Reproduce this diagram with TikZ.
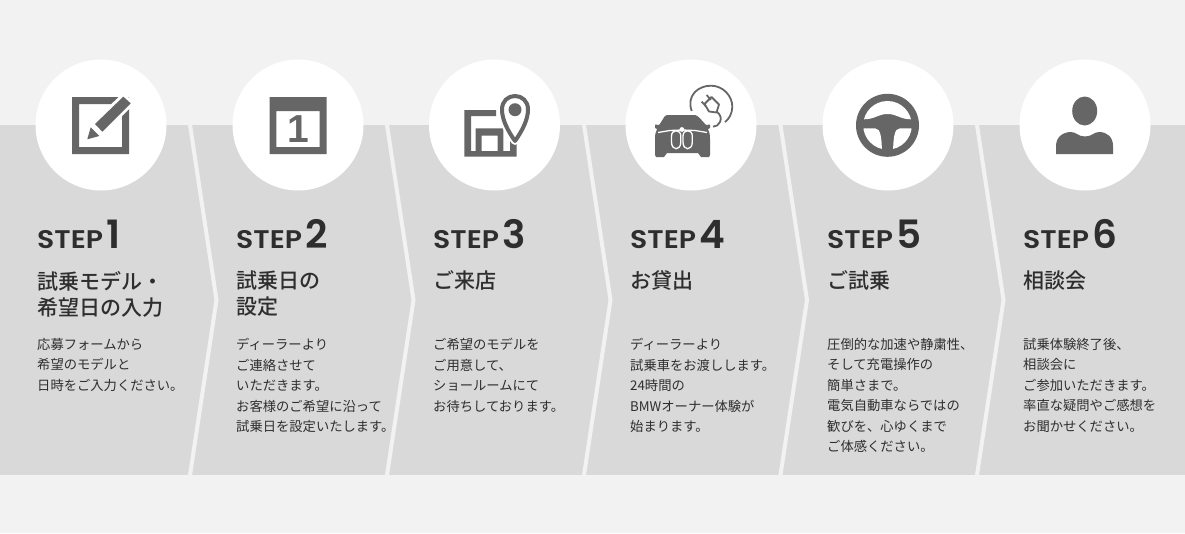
\documentclass[tikz,border=0pt]{standalone}
\usepackage{fontspec}
\setmainfont{Noto Sans CJK JP}
\newfontfamily\titlefont{Noto Sans CJK JP Medium}
\newfontfamily\stepfont[FakeStretch=1.11]{Poppins SemiBold}
\newfontfamily\stepnofont{Poppins SemiBold}
\newfontfamily\iconfont{Liberation Sans Bold}
\usepackage{tikz}
\usetikzlibrary{matrix}
\definecolor{pagegrey}{HTML}{F2F2F2}
\definecolor{bandgrey}{HTML}{D9D9D9}
\definecolor{icongrey}{HTML}{666666}
\definecolor{textgrey}{HTML}{2E2E2E}
\tikzset{
  roundel/.style={circle, fill=white, minimum size=131pt, inner sep=0pt},
  chevron/.style={draw=pagegrey, line width=4pt, miter limit=10},
  icon/.style={fill=icongrey, draw=none},
  halo/.style={draw=white, fill=white, line width=6pt, line join=round},
  cord/.style={draw=icongrey, line width=1.8pt, line join=round},
  kidney/.style={draw=white, fill=icongrey, line width=1.3pt},
  steplabel/.style={font=\stepfont\fontsize{25.5}{30}\selectfont, minimum height=40pt},
  steptitle/.style={font=\titlefont\fontsize{21}{26}\selectfont},
  stepbody/.style={font=\fontsize{13.3}{20.5}\selectfont}
}
\newcommand{\stepno}[1]{\kern3.5pt{\stepnofont\fontsize{39}{30}\selectfont #1}}
\begin{document}
\begin{tikzpicture}[x=1pt,y=-1pt]
 \useasboundingbox (0,0) rectangle (1185,533);
 \fill[pagegrey] (0,0) rectangle (1185,533);
 \fill[bandgrey] (0,125) rectangle (1185,475);
 \foreach \x in {190,387,584,780.5,977}
  \draw[chevron] (\x,125) -- (\x+26.5,300) -- (\x,475);
 \foreach \x [count=\i] in {101,298,494.5,691,888,1085}
  \node[roundel] (disc\i) at (\x,125) {};

 % step 1
 \fill[icon, even odd rule] (72,97) rectangle (129,154) (79,104) rectangle (122,147);
 \path[halo] (95,124) -- (123.3,96.7) -- (130.7,103.3) -- (102.3,131.7) -- cycle;
 \fill[icon] (95,124) -- (123.3,96.7) -- (130.7,103.3) -- (102.3,131.7) -- cycle;
 \fill[icon] (87.3,139.3) -- (90.7,127.3) -- (99.3,136) -- cycle;

 % step 2
 \fill[icon, even odd rule] (269.5,97) rectangle (326.5,154) (276.3,111) rectangle (319.7,147);
 \node[text=icongrey, font=\iconfont\fontsize{39}{39}\selectfont, inner sep=0pt] (daynum) at (298,129) {1};

 % step 3
 \fill[icon, even odd rule] (464.3,110) -- (496,110) -- (496,116) -- (471,116) -- (471,151)
  -- (475.7,151) -- (475.7,128.3) -- (503.3,128.3) -- (503.3,151) -- (510,151) -- (510,130)
  -- (516.7,130) -- (516.7,156.7) -- (464.3,156.7) -- cycle
  (481.7,135.7) rectangle (497.7,151);
 \draw[white, line width=8pt, fill=white, line join=round] (515,141) .. controls (508,131) and (502,120) .. (502,109.5)
  .. controls (502,101) and (508,96) .. (515,96) .. controls (522,96) and (528,101) .. (528,109.5)
  .. controls (528,120) and (522,131) .. (515,141) -- cycle;
 \draw[icongrey, line width=4pt, line join=round] (515,141) .. controls (508,131) and (502,120) .. (502,109.5)
  .. controls (502,101) and (508,96) .. (515,96) .. controls (522,96) and (528,101) .. (528,109.5)
  .. controls (528,120) and (522,131) .. (515,141) -- cycle;
 \fill[icon] (515,109.7) circle[radius=6.5pt];

 % step 4
 \fill[icon] (667,115) -- (695,115) .. controls (698,115) and (703,122) .. (706,125) -- (710,124.5) -- (710,128)
  -- (708,129) .. controls (709.5,132) and (710,135) .. (710,139) -- (710,155) -- (709,157) -- (701,157) -- (698,153)
  -- (667,153) -- (664,157) -- (656,157) -- (655,155) -- (655,139) .. controls (655,135) and (655.5,132) .. (657,129)
  -- (655,128) -- (655,124.5) -- (659,125) .. controls (662,122) and (664,115) .. (667,115) -- cycle;
 \draw[white, line width=1.3pt] (658,132.5) -- (670,130.5) -- (682,130) -- (695,130.5) -- (707,132.5);
 \draw[kidney] (671.5,136) .. controls (671.5,129) and (680.8,129) .. (680.8,136)
  -- (680.8,142) .. controls (680.8,151) and (671.5,151) .. (671.5,142) -- cycle;
 \draw[kidney] (683,136) .. controls (683,129) and (692.3,129) .. (692.3,136)
  -- (692.3,142) .. controls (692.3,151) and (683,151) .. (683,142) -- cycle;
 \fill[white] (681.9,129.5) circle[radius=2.4pt];
 \draw[cord] (691.7,111) .. controls (686,95) and (699,85.5) .. (711,85.7)
  .. controls (723,85.7) and (732.5,96) .. (732.3,107) .. controls (732,114) and (729,119) .. (725,122);
 \draw[cord] (704.5,104) -- (711.5,97) -- (719,104.5) -- (716.5,112.5) -- (709,111.5) -- cycle;
 \draw[cord] (701.7,101.7) -- (705.7,106) (706.7,95) -- (710.7,100);
 \draw[cord] (716.7,111.7) .. controls (720,114) and (722,118) .. (720,122) .. controls (719,125) and (716,126.5) .. (713,126.7);

 % step 5
 \fill[icon] (887.5,125.3) circle[radius=31.5pt];
 \begin{scope}
  \clip (887.5,125.3) circle[radius=24.3pt];
  \fill[white] (850,119.3) -- (864,119.3) .. controls (875,119.3) and (878,114) .. (887.5,114)
   .. controls (897,114) and (900,119.3) .. (911,119.3) -- (925,119.3) -- (925,90) -- (850,90) -- cycle;
  \fill[white] (850,128.3) -- (875,128.3) .. controls (881,128.3) and (882,138) .. (882,160) -- (850,160) -- cycle;
  \fill[white] (925,128.3) -- (900,128.3) .. controls (894,128.3) and (893,138) .. (893,160) -- (925,160) -- cycle;
 \end{scope}

 % step 6
 \fill[icon] (1084.7,111) ellipse[x radius=12.5pt, y radius=14.5pt];
 \fill[icon] (1056,154) -- (1056,146) .. controls (1056,137) and (1063,132) .. (1071,132) .. controls (1076,132) and (1078,136.5) .. (1085,136.5)
  .. controls (1092,136.5) and (1094,132) .. (1099,132) .. controls (1107,132) and (1113,137) .. (1113,146) -- (1113,154) -- cycle;

 \matrix (m) [matrix of nodes, anchor=north west, inner sep=0pt, column sep=37pt,
   nodes={anchor=north west, inner sep=0pt, text width=160pt, align=left, text=textgrey},
   row 1/.style={nodes={steplabel}}, row 2/.style={nodes={steptitle}}, row 3/.style={nodes={stepbody}}]
  at (37,214)
  {
    STEP\stepno{1} &[2pt] STEP\stepno{2} & STEP\stepno{3} & STEP\stepno{4} & STEP\stepno{5} &[-1pt] STEP\stepno{6} \\[16.5pt]
    試乗モデル・\newline 希望日の入力 & 試乗日の\newline 設定 & ご来店\newline\mbox{} & お貸出\newline\mbox{} & ご試乗\newline\mbox{} & 相談会\newline\mbox{} \\[21pt]
    応募フォームから\newline 希望のモデルと\newline 日時をご入力ください。 &
    ディーラーより\newline ご連絡させて\newline いただきます。\newline お客様のご希望に沿って\newline 試乗日を設定いたします。 &
    ご希望のモデルを\newline ご用意して、\newline ショールームにて\newline お待ちしております。 &
    ディーラーより\newline 試乗車をお渡しします。\newline 24時間の\newline BMWオーナー体験が\newline 始まります。 &
    圧倒的な加速や静粛性、\newline そして充電操作の\newline 簡単さまで。\newline 電気自動車ならではの\newline 歓びを、心ゆくまで\newline ご体感ください。 &
    試乗体験終了後、\newline 相談会に\newline ご参加いただきます。\newline 率直な疑問やご感想を\newline お聞かせください。 \\
  };
\end{tikzpicture}
\end{document}
